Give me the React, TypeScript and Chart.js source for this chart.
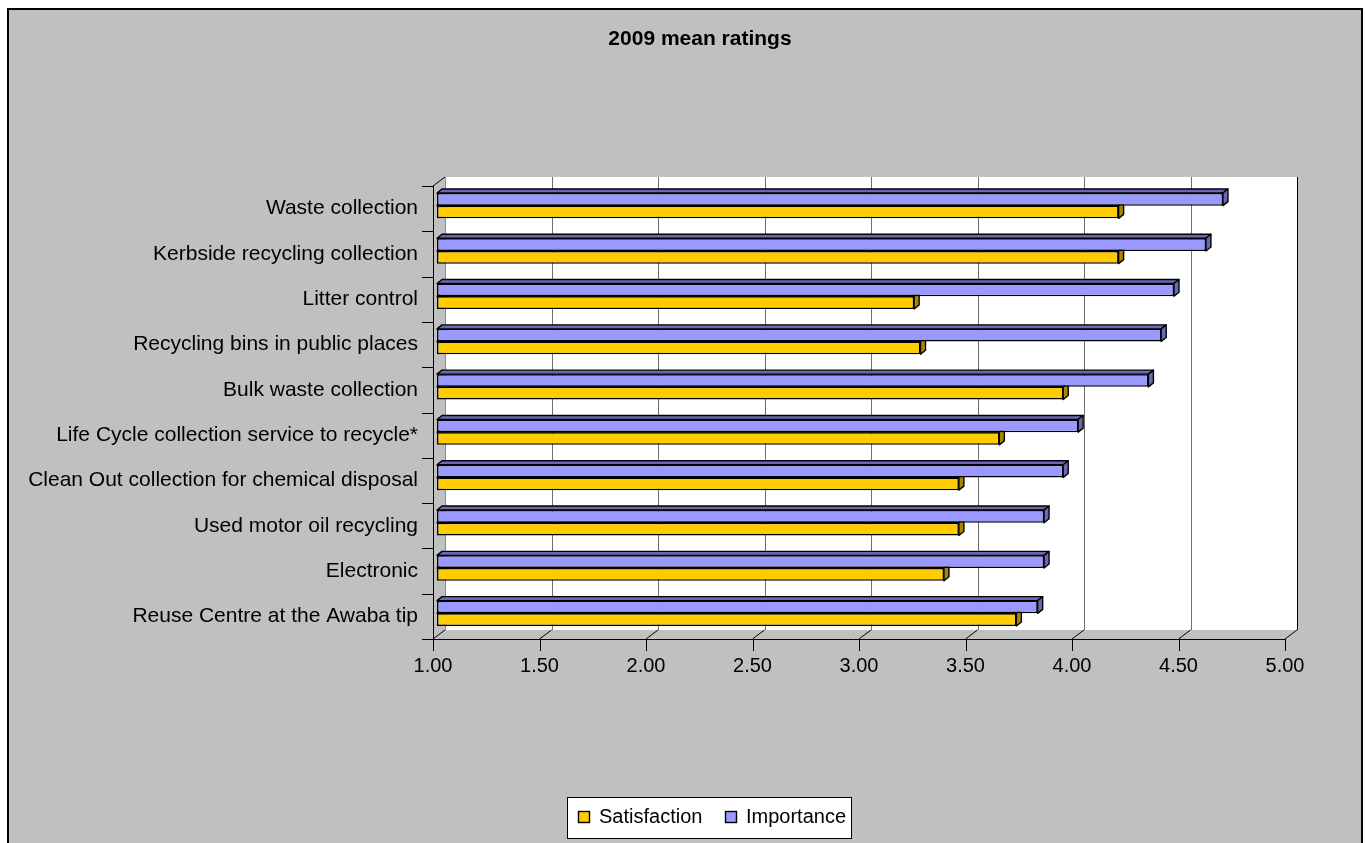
import { useEffect, useRef } from 'react';
import { Chart, registerables } from 'chart.js';

Chart.register(...registerables);

// Services, listed top to bottom
const categories = [
  'Waste collection',
  'Kerbside recycling collection',
  'Litter control',
  'Recycling bins in public places',
  'Bulk waste collection',
  'Life Cycle collection service to recycle*',
  'Clean Out collection for chemical disposal',
  'Used motor oil recycling',
  'Electronic',
  'Reuse Centre at the Awaba tip',
];

// Mean ratings (1 to 5)
const importance = [4.69, 4.61, 4.46, 4.4, 4.34, 4.01, 3.94, 3.85, 3.85, 3.82];
const satisfaction = [4.2, 4.2, 3.24, 3.27, 3.94, 3.64, 3.45, 3.45, 3.38, 3.72];

const axisMin = 1;
const axisMax = 5;
const axisStep = 0.5;

const FONT = '"Liberation Sans", Arial, Helvetica, sans-serif';
const WALL = { dx: 12, dy: -9 }; // depth of the back wall
const BAR_SHIFT = { dx: 4, dy: -3 }; // bars sit a little into the depth
const BAR_DEPTH = { dx: 5, dy: -4 }; // thickness of each bar

const darkFaces: Record<string, string> = {
  Importance: '#6868B8',
  Satisfaction: '#A88600',
};

function line(ctx: CanvasRenderingContext2D, x1: number, y1: number, x2: number, y2: number, color: string, w = 1) {
  ctx.beginPath();
  ctx.strokeStyle = color;
  ctx.lineWidth = w;
  ctx.moveTo(x1, y1);
  ctx.lineTo(x2, y2);
  ctx.stroke();
}

function poly(ctx: CanvasRenderingContext2D, pts: number[][], fill: string) {
  ctx.beginPath();
  ctx.moveTo(pts[0][0], pts[0][1]);
  for (let i = 1; i < pts.length; i++) ctx.lineTo(pts[i][0], pts[i][1]);
  ctx.closePath();
  ctx.fillStyle = fill;
  ctx.fill();
  ctx.strokeStyle = '#000';
  ctx.lineWidth = 1.4;
  ctx.lineJoin = 'round';
  ctx.stroke();
}

const chartFrame = {
  id: 'chartFrame',
  beforeDraw(chart: any) {
    const { ctx, width, height } = chart;
    ctx.save();
    ctx.fillStyle = '#ffffff';
    ctx.fillRect(0, 0, width, height);
    ctx.fillStyle = '#C0C0C0';
    ctx.fillRect(9, 10, 1352, height - 10);
    ctx.fillStyle = '#000000';
    ctx.fillRect(7, 8, 1356, 2);
    ctx.fillRect(7, 8, 2, height - 8);
    ctx.fillRect(1361, 8, 2, height - 8);
    ctx.restore();
  },
  beforeDatasetsDraw(chart: any) {
    const { ctx, chartArea: a, scales } = chart;
    const xs = scales.x;
    const L = a.left, R = a.right, T = a.top, B = a.bottom;
    ctx.save();
    // back wall
    ctx.fillStyle = '#ffffff';
    ctx.fillRect(L + WALL.dx, T + WALL.dy, R - L, B - T);
    // gridlines on the back wall
    for (let v = axisMin + axisStep; v < axisMax - 1e-9; v += axisStep) {
      const px = Math.round(xs.getPixelForValue(v) + WALL.dx) + 0.5;
      line(ctx, px, T + WALL.dy, px, B + WALL.dy, '#6e6e6e');
    }
    // right edge of the back wall
    const rx = Math.round(R + WALL.dx) + 0.5;
    line(ctx, rx, T + WALL.dy, rx, B + WALL.dy, '#000');
    // corner between side wall and back wall
    const bx = Math.round(L + WALL.dx) + 0.5;
    line(ctx, bx, T + WALL.dy, bx, B + WALL.dy, '#8a8a8a');
    // floor diagonals
    for (let v = axisMin; v <= axisMax + 1e-9; v += axisStep) {
      const px = xs.getPixelForValue(v);
      line(ctx, px, B, px + WALL.dx, B + WALL.dy, '#000');
    }
    // side wall front edge and top
    const lx = Math.round(L) + 0.5;
    line(ctx, lx, T, lx, B, '#000');
    line(ctx, L, T, L + WALL.dx, T + WALL.dy, '#000');
    // front axis line and ticks
    line(ctx, L - 11, Math.round(B) + 0.5, R, Math.round(B) + 0.5, '#000');
    for (let v = axisMin; v <= axisMax + 1e-9; v += axisStep) {
      const px = Math.round(xs.getPixelForValue(v)) + 0.5;
      line(ctx, px, B, px, B + 12, '#000');
    }
    const n = categories.length;
    for (let i = 0; i <= n; i++) {
      const py = Math.round(T + (i * (B - T)) / n) + 0.5;
      line(ctx, L - 11, py, L, py, '#000');
    }
    ctx.restore();

    // depth faces of the bars, then leave the shift in place for the bar fronts
    ctx.save();
    ctx.translate(BAR_SHIFT.dx, BAR_SHIFT.dy);
    const order = [1, 0];
    order.forEach((di) => {
      const meta = chart.getDatasetMeta(di);
      const dark = darkFaces[chart.data.datasets[di].label];
      meta.data.forEach((bar: any) => {
        const { x, y, base, height } = bar.getProps(['x', 'y', 'base', 'height'], true);
        const top = y - height / 2;
        const bot = y + height / 2;
        poly(ctx, [[base, top], [base + BAR_DEPTH.dx, top + BAR_DEPTH.dy], [x + BAR_DEPTH.dx, top + BAR_DEPTH.dy], [x, top]], dark);
        poly(ctx, [[x, top], [x + BAR_DEPTH.dx, top + BAR_DEPTH.dy], [x + BAR_DEPTH.dx, bot + BAR_DEPTH.dy], [x, bot]], dark);
      });
    });
  },
  afterDatasetsDraw(chart: any) {
    chart.ctx.restore();
  },
  afterDraw(chart: any) {
    const { ctx } = chart;
    ctx.save();
    // title
    ctx.fillStyle = '#000';
    ctx.font = `bold 21px ${FONT}`;
    ctx.textAlign = 'center';
    ctx.textBaseline = 'middle';
    ctx.fillText('2009 mean ratings', 700, 39);
    // legend
    ctx.fillStyle = '#fff';
    ctx.fillRect(567.5, 797.5, 284, 41);
    ctx.strokeStyle = '#000';
    ctx.lineWidth = 1;
    ctx.strokeRect(567.5, 797.5, 284, 41);
    const items = [chart.data.datasets[1], chart.data.datasets[0]];
    const boxX = [578.5, 725.5];
    const textX = [599, 746];
    ctx.font = `20px ${FONT}`;
    ctx.textAlign = 'left';
    ctx.textBaseline = 'middle';
    items.forEach((ds: any, i: number) => {
      ctx.fillStyle = ds.backgroundColor;
      ctx.fillRect(boxX[i], 811.5, 11, 11);
      ctx.strokeStyle = '#000';
      ctx.lineWidth = 1.4;
      ctx.strokeRect(boxX[i], 811.5, 11, 11);
      ctx.fillStyle = '#000';
      ctx.fillText(ds.label, textX[i], 817);
    });
    ctx.restore();
  },
};

export default function App() {
  const ref = useRef<HTMLCanvasElement>(null);

  useEffect(() => {
    if (!ref.current) return;
    // bars start at the axis minimum
    const fromMin = (vals: number[]) => vals.map((v) => [axisMin, v]);
    const chart = new Chart(ref.current, {
      type: 'bar',
      data: {
        labels: categories,
        datasets: [
          {
            label: 'Importance',
            data: fromMin(importance),
            backgroundColor: '#9999FF',
            borderColor: '#000000',
            borderWidth: 1.5,
            borderSkipped: false,
            categoryPercentage: 0.56,
            barPercentage: 1,
            clip: false,
          },
          {
            label: 'Satisfaction',
            data: fromMin(satisfaction),
            backgroundColor: '#FFCC00',
            borderColor: '#000000',
            borderWidth: 1.5,
            borderSkipped: false,
            categoryPercentage: 0.56,
            barPercentage: 1,
            clip: false,
          },
        ],
      },
      options: {
        animation: false,
        responsive: false,
        indexAxis: 'y',
        layout: { padding: { left: 0, right: 80, top: 186, bottom: 154 } },
        plugins: {
          legend: { display: false },
          title: { display: false },
          tooltip: { enabled: false },
        },
        scales: {
          x: {
            min: axisMin,
            max: axisMax,
            ticks: {
              stepSize: axisStep,
              autoSkip: false,
              maxRotation: 0,
              color: '#000',
              padding: 15,
              font: { family: FONT, size: 20 },
              callback: (v: any) => Number(v).toFixed(2),
            },
            grid: { display: false, drawTicks: false },
            border: { display: false },
            afterFit: (s: any) => {
              s.height = 50;
            },
          },
          y: {
            ticks: {
              autoSkip: false,
              color: '#000',
              padding: 15,
              font: { family: FONT, size: 21 },
            },
            grid: { display: false, drawTicks: false },
            border: { display: false },
            afterFit: (s: any) => {
              s.width = 433;
            },
          },
        },
      } as any,
      plugins: [chartFrame],
    });
    return () => chart.destroy();
  }, []);

  return (
    <div style={{ position: 'absolute', left: 0, top: 0, width: 1365, height: 843 }}>
      <canvas ref={ref} width={1365} height={843} style={{ display: 'block' }} />
    </div>
  );
}
